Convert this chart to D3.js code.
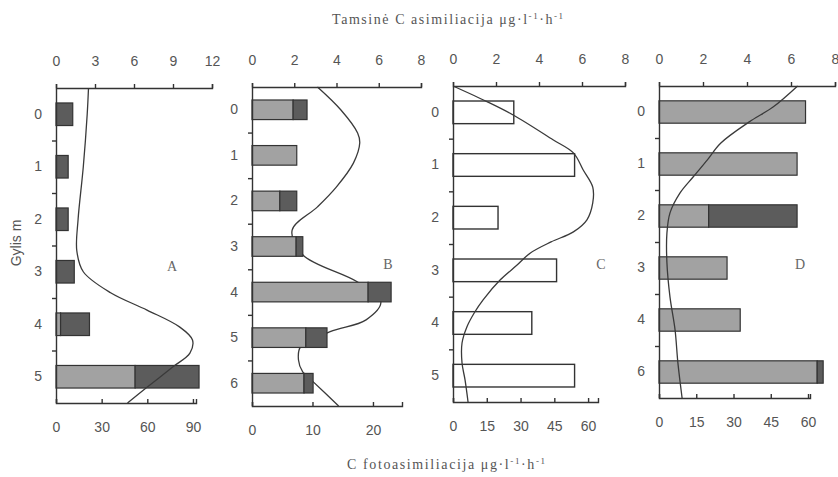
<!DOCTYPE html>
<html lang="lt">
  <head>
    <meta charset="UTF-8" />
    <title>Gylis</title>
    <script src="https://cdn.jsdelivr.net/npm/d3@7/dist/d3.min.js"></script>
    <style>
      body { margin: 0; background: #fff; }
    </style>
  </head>
  <body>
    <div id="wrapper"></div>
    <script>
      // panel A
      const catsA = ["0", "1", "2", "3", "4", "5"];
      const lightA = [0, 0, 0, 0, 3, 52];
      const darkA = [11, 8, 8, 12, 19, 42];
      const lineDepthA = [-0.5, 0, 1, 2, 2.6, 3.0, 3.4, 3.73, 4.05, 4.3, 4.55, 4.81, 5.2, 5.5];
      const lineValA = [2.5, 2.4, 2.1, 1.7, 1.6, 2.1, 4.2, 7.0, 9.5, 10.5, 10.3, 9.0, 7.0, 5.5];
      const topTicksA = [0, 3, 6, 9, 12];
      const botTicksA = [0, 30, 60, 90];

      // panel B
      const catsB = ["0", "1", "2", "3", "4", "5", "6"];
      const lightB = [6.8, 7.4, 4.6, 7.3, 19.2, 8.9, 8.6];
      const darkB = [2.3, 0, 2.8, 1.1, 3.8, 3.5, 1.5];
      const lineDepthB = [-0.5, 0, 0.51, 0.73, 1.17, 1.69, 2.13, 2.64, 3.18, 3.78, 4.21, 4.61, 4.87, 5.2, 5.49, 5.75, 5.97, 6.5];
      const lineValB = [3.1, 4.2, 5.0, 5.1, 4.8, 4.0, 3.1, 1.9, 2.4, 5.0, 6.1, 5.4, 3.7, 2.3, 2.2, 2.4, 2.9, 4.1];
      const topTicksB = [0, 2, 4, 6, 8];
      const botTicksB = [0, 10, 20];

      // panel C
      const catsC = ["0", "1", "2", "3", "4", "5"];
      const valC = [27, 54, 20, 46, 35, 54];
      const lineDepthC = [-0.5, -0.2, 0.05, 0.52, 0.77, 1.09, 1.42, 1.72, 2.04, 2.27, 2.46, 2.67, 2.9, 3.18, 3.56, 3.8, 4.07, 4.38, 4.76, 5.08, 5.5];
      const lineValC = [0, 1.6, 2.8, 4.65, 5.6, 6.05, 6.5, 6.5, 6.23, 5.6, 4.56, 3.6, 2.98, 2.2, 1.4, 1.0, 0.65, 0.42, 0.42, 0.56, 0.7];
      const topTicksC = [0, 2, 4, 6, 8];
      const botTicksC = [0, 15, 30, 45, 60];

      // panel D
      const catsD = ["0", "1", "2", "3", "4", "6"];
      const lightD = [59, 55.6, 20, 27.4, 32.7, 63.7];
      const darkD = [0, 0, 35.6, 0, 0, 2.4];
      const lineDepthD = [-0.5, -0.1, 0.19, 0.6, 0.92, 1.25, 1.56, 1.94, 2.33, 2.9, 3.56, 4.19, 4.83, 5.5];
      const lineValD = [6.3, 5.2, 4.1, 2.8, 2.2, 1.55, 0.95, 0.5, 0.36, 0.36, 0.5, 0.73, 0.86, 1.05];
      const topTicksD = [0, 2, 4, 6, 8];
      const botTicksD = [0, 15, 30, 45, 60];

      const panels = [
        { letter: "A", cats: catsA, light: lightA, dark: darkA, lineD: lineDepthA, lineV: lineValA,
          topTicks: topTicksA, botTicks: botTicksA, topMax: 12, botMax: 92,
          left: 56, topRight: 212, botRight: 196, top: 88, bottom: 403, lx: 172, ly: 271, lineOnTop: true },
        { letter: "B", cats: catsB, light: lightB, dark: darkB, lineD: lineDepthB, lineV: lineValB,
          topTicks: topTicksB, botTicks: botTicksB, topMax: 8, botMax: 24.8,
          left: 252, topRight: 421, botRight: 402, top: 87, bottom: 406, lx: 388, ly: 269, lineOnTop: false },
        { letter: "C", cats: catsC, light: valC, dark: null, lineD: lineDepthC, lineV: lineValC,
          topTicks: topTicksC, botTicks: botTicksC, topMax: 8, botMax: 64.4,
          left: 453, topRight: 625, botRight: 598, top: 86, bottom: 402, lx: 601, ly: 269, lineOnTop: true },
        { letter: "D", cats: catsD, light: lightD, dark: darkD, lineD: lineDepthD, lineV: lineValD,
          topTicks: topTicksD, botTicks: botTicksD, topMax: 8, botMax: 60.8,
          left: 659, topRight: 835, botRight: 810, top: 86, bottom: 398, lx: 800, ly: 269, lineOnTop: true },
      ];

      const width = 838;
      const height = 477;
      const ink = "#333";
      const textGray = "#555";
      const serif = "'Liberation Serif', 'Times New Roman', serif";

      const svg = d3
        .select("#wrapper")
        .append("svg")
        .attr("width", width)
        .attr("height", height);

      function styleAxis(g) {
        g.selectAll("path, line").attr("stroke", ink).attr("stroke-width", 1.4);
        g.selectAll("text")
          .attr("font-family", "'Liberation Sans', Arial, sans-serif")
          .attr("font-size", 14)
          .attr("fill", textGray);
      }

      function drawPanel(p) {
        const g = svg.append("g");
        const n = p.cats.length;

        const xTop = d3.scaleLinear().domain([0, p.topMax]).range([p.left, p.topRight]);
        const xBot = d3.scaleLinear().domain([0, p.botMax]).range([p.left, p.botRight]);
        const yBand = d3
          .scaleBand()
          .domain(p.cats)
          .range([p.top, p.bottom])
          .paddingInner(0.57)
          .paddingOuter(0.285);
        const yDepth = d3.scaleLinear().domain([-0.5, n - 0.5]).range([p.top, p.bottom]);

        const lineGenerator = d3
          .line()
          .x((d) => xTop(d.v))
          .y((d) => yDepth(d.d))
          .curve(d3.curveCatmullRom.alpha(0.5));
        const lineData = p.lineD.map((d, i) => ({ d: d, v: p.lineV[i] }));

        const drawLine = () =>
          g.append("path")
            .attr("d", lineGenerator(lineData))
            .attr("fill", "none")
            .attr("stroke", "#3a3a3a")
            .attr("stroke-width", 1.3);

        if (!p.lineOnTop) drawLine();

        const rows = p.cats.map((c, i) => ({
          cat: c,
          light: p.light[i],
          dark: p.dark ? p.dark[i] : 0,
        }));

        if (p.dark) {
          g.selectAll(".light")
            .data(rows.filter((d) => d.light > 0))
            .join("rect")
            .attr("x", xBot(0))
            .attr("y", (d) => yBand(d.cat))
            .attr("width", (d) => xBot(d.light) - xBot(0))
            .attr("height", yBand.bandwidth())
            .attr("fill", "#a2a2a2")
            .attr("stroke", ink)
            .attr("stroke-width", 1.2);
          g.selectAll(".dark")
            .data(rows.filter((d) => d.dark > 0))
            .join("rect")
            .attr("x", (d) => xBot(d.light))
            .attr("y", (d) => yBand(d.cat))
            .attr("width", (d) => xBot(d.light + d.dark) - xBot(d.light))
            .attr("height", yBand.bandwidth())
            .attr("fill", "#5c5c5c")
            .attr("stroke", ink)
            .attr("stroke-width", 1.2);
        } else {
          g.selectAll(".open")
            .data(rows)
            .join("rect")
            .attr("x", xBot(0))
            .attr("y", (d) => yBand(d.cat))
            .attr("width", (d) => xBot(d.light) - xBot(0))
            .attr("height", yBand.bandwidth())
            .attr("fill", "#fff")
            .attr("stroke", ink)
            .attr("stroke-width", 1.4);
        }

        if (p.lineOnTop) drawLine();

        // axes
        g.append("g")
          .attr("transform", `translate(0,${p.top})`)
          .call(d3.axisTop(xTop).tickValues(p.topTicks).tickSize(4).tickPadding(18))
          .call(styleAxis);

        g.append("g")
          .attr("transform", `translate(0,${p.bottom})`)
          .call(
            d3.axisBottom(xBot).tickValues(p.botTicks).tickSizeInner(-4).tickSizeOuter(-4).tickPadding(19)
          )
          .call(styleAxis);

        g.append("g")
          .attr("transform", `translate(${p.left},0)`)
          .call(d3.axisLeft(yBand).tickSize(0).tickPadding(14))
          .call(styleAxis);

        g.append("g")
          .attr("transform", `translate(${p.left},0)`)
          .call(
            d3.axisLeft(yDepth)
              .tickValues(d3.range(0.5, n - 0.5, 1))
              .tickFormat("")
              .tickSize(4)
          )
          .call((a) => a.select(".domain").remove())
          .call(styleAxis);

        svg.append("text")
          .attr("x", p.lx)
          .attr("y", p.ly)
          .attr("text-anchor", "middle")
          .attr("font-family", serif)
          .attr("font-size", 14)
          .attr("fill", "#666")
          .text(p.letter);
      }

      panels.forEach(drawPanel);

      const topTitle = svg.append("text")
        .attr("x", 332)
        .attr("y", 24)
        .attr("font-family", serif)
        .attr("font-size", 14)
        .attr("fill", textGray)
        .attr("textLength", 231)
        .attr("lengthAdjust", "spacing");
      topTitle.append("tspan").text("Tamsinė C asimiliacija  μg·l");
      topTitle.append("tspan").attr("dy", -5).attr("font-size", 9).text("-1");
      topTitle.append("tspan").attr("dy", 5).text("·h");
      topTitle.append("tspan").attr("dy", -5).attr("font-size", 9).text("-1");

      const botTitle = svg.append("text")
        .attr("x", 347)
        .attr("y", 469)
        .attr("font-family", serif)
        .attr("font-size", 14)
        .attr("fill", textGray)
        .attr("textLength", 198)
        .attr("lengthAdjust", "spacing");
      botTitle.append("tspan").text("C fotoasimiliacija  μg·l");
      botTitle.append("tspan").attr("dy", -5).attr("font-size", 9).text("-1");
      botTitle.append("tspan").attr("dy", 5).text("·h");
      botTitle.append("tspan").attr("dy", -5).attr("font-size", 9).text("-1");

      svg.append("text")
        .attr("transform", "translate(21,243) rotate(-90)")
        .attr("text-anchor", "middle")
        .attr("font-family", "'Liberation Sans', Arial, sans-serif")
        .attr("font-size", 14)
        .attr("fill", textGray)
        .text("Gylis m");
    </script>
  </body>
</html>
